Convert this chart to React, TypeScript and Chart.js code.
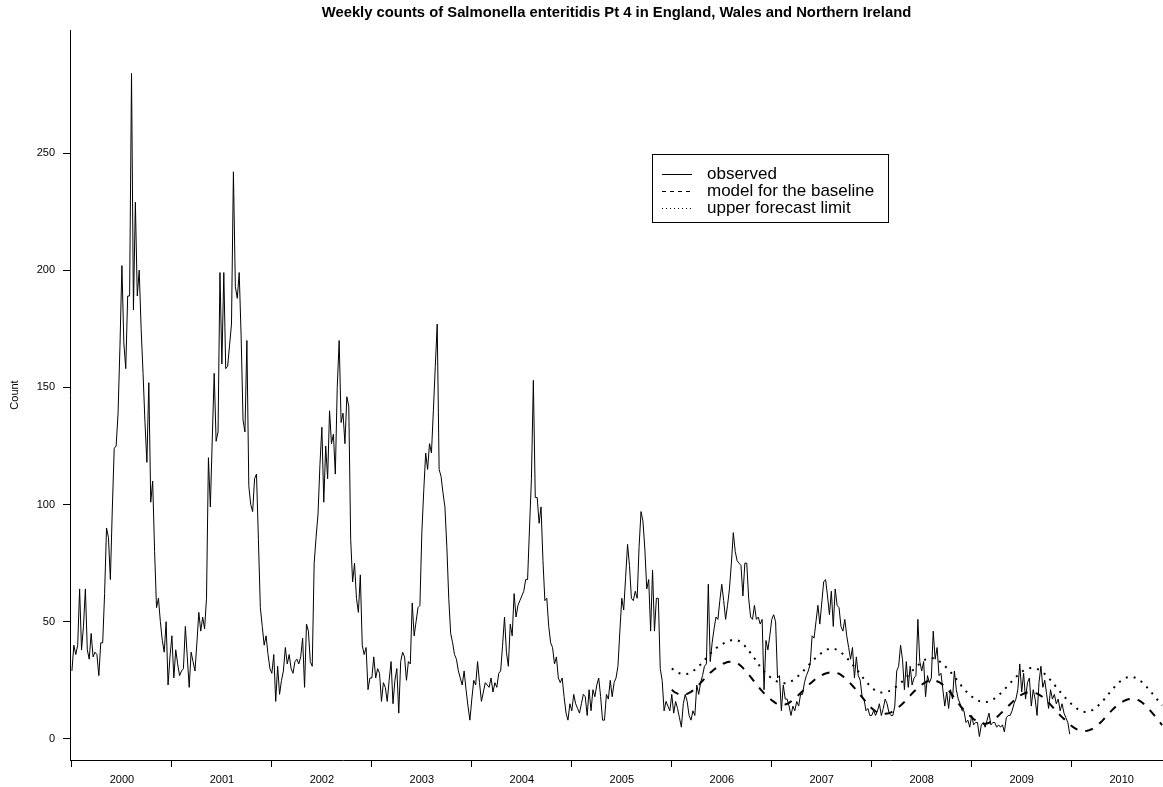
import React, { useEffect, useRef } from "react";
import { Chart, registerables } from "chart.js";

Chart.register(...registerables);

// ---------- data ----------
const years = ["2000", "2001", "2002", "2003", "2004", "2005", "2006", "2007", "2008", "2009", "2010"];
const weeksPerYear = 52;
const yTicks = [0, 50, 100, 150, 200, 250];

const obs2000 = [29, 40, 36, 40, 64, 38, 48, 64, 38, 34, 45, 35, 37, 36, 27, 41, 41, 62, 90, 86, 68, 98, 124, 125, 139, 168, 202, 169, 158, 189, 189, 284, 183, 229, 189, 200, 175, 156, 135, 118, 152, 101, 110, 80, 56, 60, 50, 42, 37, 50, 23, 35];
const obs2001 = [44, 26, 38, 32, 27, 29, 30, 48, 35, 22, 37, 33, 29, 41, 54, 46, 52, 47, 60, 120, 99, 128, 156, 127, 131, 199, 160, 199, 158, 159, 168, 177, 242, 193, 188, 199, 172, 136, 131, 170, 108, 100, 97, 111, 113, 85, 56, 48, 40, 44, 36, 30];
const obs2002 = [28, 36, 16, 31, 19, 25, 29, 39, 32, 36, 30, 28, 33, 34, 32, 35, 43, 22, 49, 46, 33, 31, 75, 86, 96, 117, 133, 101, 125, 111, 140, 126, 130, 113, 150, 170, 135, 139, 126, 146, 142, 85, 67, 75, 60, 54, 70, 40, 36, 39, 21, 26];
const obs2003 = [26, 35, 26, 30, 28, 16, 24, 22, 16, 25, 33, 15, 25, 30, 11, 33, 37, 35, 25, 33, 32, 58, 44, 50, 56, 57, 88, 106, 122, 115, 126, 122, 140, 159, 177, 115, 112, 105, 99, 82, 60, 45, 41, 36, 34, 29, 26, 23, 29, 21, 14, 8];
const obs2004 = [17, 25, 23, 33, 24, 16, 20, 24, 23, 22, 26, 20, 24, 22, 28, 29, 40, 52, 37, 31, 49, 44, 62, 52, 57, 59, 61, 63, 68, 68, 90, 111, 153, 103, 103, 92, 99, 76, 59, 60, 48, 41, 39, 32, 35, 26, 24, 26, 18, 11, 8, 15];
const obs2005 = [12, 19, 15, 13, 11, 15, 19, 18, 10, 21, 12, 21, 18, 23, 26, 18, 8, 8, 19, 17, 25, 18, 24, 26, 31, 46, 60, 55, 69, 83, 74, 60, 59, 63, 60, 82, 97, 93, 81, 64, 68, 46, 72, 46, 60, 60, 30, 25, 12, 16, 14, 12];
const obs2006 = [19, 11, 16, 13, 9, 5, 15, 19, 16, 10, 8, 12, 10, 23, 19, 24, 27, 31, 32, 66, 33, 41, 47, 52, 51, 59, 66, 59, 51, 57, 64, 75, 88, 80, 76, 75, 74, 61, 75, 75, 60, 52, 51, 57, 51, 52, 49, 51, 21, 42, 38, 44];
const obs2007 = [51, 53, 50, 26, 27, 12, 23, 17, 17, 14, 10, 14, 12, 16, 14, 19, 19, 24, 27, 29, 32, 44, 43, 50, 57, 49, 58, 67, 68, 61, 53, 63, 48, 64, 57, 56, 48, 46, 51, 44, 39, 34, 39, 26, 35, 27, 25, 18, 17, 12, 13, 10];
const obs2008 = [10, 12, 10, 12, 15, 10, 13, 17, 15, 11, 10, 10, 14, 29, 31, 40, 34, 21, 33, 22, 31, 23, 26, 27, 51, 33, 29, 33, 18, 27, 24, 26, 46, 34, 39, 27, 28, 21, 14, 20, 13, 21, 17, 29, 21, 17, 15, 12, 12, 7, 8, 5];
const obs2009 = [10, 6, 7, 7, 1, 6, 7, 5, 8, 11, 6, 7, 7, 5, 6, 5, 6, 3, 9, 10, 10, 12, 15, 17, 21, 32, 20, 28, 17, 24, 26, 14, 21, 17, 10, 24, 31, 22, 25, 19, 13, 21, 17, 19, 15, 17, 12, 15, 11, 9, 7, 2];

const base2006 = [21, 20.2, 19.7, 19.3, 19, 18.8, 18.8, 18.9, 19.2, 19.6, 20.1, 20.7, 21.4, 22.2, 23, 23.9, 24.8, 25.7, 26.6, 27.4, 28.2, 28.9, 29.6, 30.2, 30.8, 31.3, 31.8, 32.2, 32.5, 32.8, 32.9, 33, 32.9, 32.7, 32.3, 31.8, 31.1, 30.3, 29.4, 28.5, 27.5, 26.5, 25.4, 24.3, 23.3, 22.3, 21.3, 20.4, 19.5, 18.7, 18, 17.2];
const base2007 = [16.5, 15.9, 15.3, 14.9, 14.6, 14.5, 14.5, 14.7, 15, 15.4, 16, 16.6, 17.3, 18, 18.8, 19.6, 20.4, 21.2, 22, 22.8, 23.6, 24.3, 25, 25.7, 26.3, 26.8, 27.2, 27.6, 27.9, 28.1, 28.3, 28.4, 28.4, 28.3, 28.1, 27.8, 27.3, 26.7, 26, 25.3, 24.5, 23.6, 22.7, 21.8, 20.8, 19.8, 18.8, 17.8, 16.8, 15.8, 14.8, 13.9];
const base2008 = [13.1, 12.4, 11.8, 11.3, 11, 10.8, 10.7, 10.7, 10.8, 11, 11.3, 11.7, 12.2, 12.8, 13.5, 14.2, 15, 15.8, 16.7, 17.6, 18.5, 19.4, 20.2, 21, 21.8, 22.5, 23.1, 23.7, 24.2, 24.6, 24.9, 25, 25, 24.9, 24.6, 24.2, 23.7, 23.1, 22.4, 21.6, 20.7, 19.7, 18.6, 17.5, 16.4, 15.3, 14.2, 13.2, 12.3, 11.4, 10.6, 9.9];
const base2009 = [9.2, 8.5, 7.9, 7.4, 7, 6.7, 6.5, 6.5, 6.6, 6.9, 7.3, 7.8, 8.5, 9.2, 10, 10.8, 11.6, 12.4, 13.2, 14, 14.8, 15.6, 16.4, 17.1, 17.8, 18.4, 18.9, 19.3, 19.6, 19.8, 19.9, 19.9, 19.8, 19.6, 19.3, 18.9, 18.4, 17.8, 17.1, 16.3, 15.5, 14.6, 13.7, 12.8, 11.9, 11, 10.1, 9.3, 8.5, 7.7, 6.9, 6.2];
const base2010 = [5.5, 4.9, 4.4, 4, 3.7, 3.5, 3.4, 3.4, 3.5, 3.7, 4, 4.4, 4.9, 5.5, 6.2, 7, 7.8, 8.7, 9.6, 10.5, 11.4, 12.3, 13.1, 13.9, 14.6, 15.2, 15.7, 16.1, 16.5, 16.8, 17, 17.1, 17.1, 17, 16.8, 16.4, 15.9, 15.3, 14.6, 13.8, 12.9, 12, 11, 10, 9, 8, 7, 5.9];

const up2006 = [30, 29.5, 29, 28.5, 28, 27.8, 27.6, 27.6, 27.7, 28, 28.4, 29, 29.5, 30.2, 31, 31.8, 32.7, 33.6, 34.6, 35.5, 36.4, 37.2, 38, 38.7, 39.3, 39.8, 40.3, 40.8, 41.2, 41.6, 41.9, 42.1, 42.2, 42.2, 42.1, 41.8, 41.3, 40.6, 39.7, 38.7, 37.7, 36.6, 35.5, 34.4, 33.2, 32, 30.8, 29.7, 28.8, 28, 27.2, 26.5];
const up2007 = [25.9, 25.3, 24.8, 24.4, 24.1, 23.9, 23.8, 23.8, 23.9, 24.1, 24.5, 25, 25.6, 26.3, 27, 27.8, 28.6, 29.5, 30.4, 31.3, 32.2, 33.1, 33.9, 34.7, 35.4, 36.1, 36.7, 37.3, 37.8, 38.2, 38.4, 38.5, 38.5, 38.3, 38, 37.5, 36.9, 36.2, 35.4, 34.6, 33.7, 32.8, 31.8, 30.8, 29.8, 28.8, 27.7, 26.6, 25.5, 24.5, 23.6, 22.7];
const up2008 = [21.9, 21.2, 20.6, 20.2, 19.9, 19.8, 19.8, 19.9, 20.1, 20.4, 20.8, 21.3, 21.8, 22.4, 23.1, 23.8, 24.6, 25.4, 26.3, 27.2, 28.1, 29, 29.8, 30.6, 31.4, 32.1, 32.8, 33.4, 33.9, 34.3, 34.5, 34.5, 34.4, 34.1, 33.7, 33.2, 32.6, 31.9, 31.2, 30.3, 29.4, 28.5, 27.5, 26.5, 25.5, 24.4, 23.3, 22.3, 21.3, 20.4, 19.6, 18.8];
const up2009 = [18.1, 17.5, 17, 16.5, 16.1, 15.9, 15.7, 15.7, 15.8, 16, 16.3, 16.8, 17.3, 17.9, 18.6, 19.4, 20.2, 21.1, 22, 22.9, 23.8, 24.7, 25.6, 26.4, 27.2, 27.9, 28.6, 29.2, 29.7, 30, 30.2, 30.3, 30.3, 30.2, 29.9, 29.5, 29, 28.4, 27.7, 26.9, 26, 25.1, 24.1, 23.1, 22.1, 21.1, 20.1, 19.1, 18.2, 17.3, 16.4, 15.6];
const up2010 = [14.8, 14.1, 13.4, 12.8, 12.3, 11.9, 11.6, 11.5, 11.5, 11.7, 12, 12.4, 13, 13.6, 14.4, 15.2, 16.1, 17, 18, 19, 20, 21, 21.9, 22.8, 23.6, 24.4, 25, 25.6, 26, 26.3, 26.5, 26.5, 26.4, 26.1, 25.7, 25.2, 24.6, 23.9, 23.1, 22.2, 21.3, 20.3, 19.3, 18.3, 17.3, 16.3, 15.3, 14.3];

const observedStartWeek = 1;
const forecastStartWeek = 313;
const lastWeek = 568.5;

const observed = [...obs2000, ...obs2001, ...obs2002, ...obs2003, ...obs2004, ...obs2005, ...obs2006, ...obs2007, ...obs2008, ...obs2009];
const baseline = [...base2006, ...base2007, ...base2008, ...base2009, ...base2010];
const upperLimit = [...up2006, ...up2007, ...up2008, ...up2009, ...up2010];

const yearStarts = years.map((_, i) => 1 + i * weeksPerYear);
const yearMids = years.map((_, i) => 27 + i * weeksPerYear);

const FONT = '"Liberation Sans", Arial, Helvetica, sans-serif';

function toPoints(values: number[], start: number) {
  return values.map((v, i) => ({ x: start + i, y: v }));
}

const legendStyles = [
  { dash: [] as number[], width: 1 },
  { dash: [4, 4], width: 1 },
  { dash: [1, 3], width: 1 },
];

const boxLegend = {
  id: "boxLegend",
  afterDraw(chart: any) {
    const { ctx, chartArea } = chart;
    const x0 = chartArea.left + 582;
    const y0 = chartArea.top + 124;
    const w = 236;
    const rowGap = 17;
    const h = rowGap * 4;
    ctx.save();
    ctx.strokeStyle = "#000";
    ctx.lineWidth = 1;
    ctx.setLineDash([]);
    ctx.strokeRect(Math.round(x0) + 0.5, Math.round(y0) + 0.5, w, h);
    chart.data.datasets.forEach((ds: any, i: number) => {
      const cy = Math.round(y0 + rowGap * (i + 1) + 3) + 0.5;
      const st = legendStyles[i];
      ctx.beginPath();
      ctx.setLineDash(st.dash);
      ctx.lineWidth = st.width;
      ctx.moveTo(x0 + 10, cy);
      ctx.lineTo(x0 + 40, cy);
      ctx.stroke();
      ctx.setLineDash([]);
      ctx.fillStyle = "#000";
      ctx.font = `17px ${FONT}`;
      ctx.textBaseline = "middle";
      ctx.textAlign = "left";
      ctx.fillText(ds.label, x0 + 55, cy);
    });
    ctx.restore();
  },
};

export default function App() {
  const ref = useRef<HTMLCanvasElement | null>(null);

  useEffect(() => {
    if (!ref.current) return;
    const chart = new Chart(ref.current, {
      type: "line",
      data: {
        datasets: [
          {
            label: "observed",
            data: toPoints(observed, observedStartWeek),
            borderColor: "#000",
            borderWidth: 1,
            pointRadius: 0,
            tension: 0,
            fill: false,
          },
          {
            label: "model for the baseline",
            data: toPoints(baseline, forecastStartWeek),
            borderColor: "#000",
            borderWidth: 2,
            borderDash: [8, 8],
            pointRadius: 0,
            tension: 0,
            fill: false,
          },
          {
            label: "upper forecast limit",
            data: toPoints(upperLimit, forecastStartWeek),
            borderColor: "#000",
            borderWidth: 2,
            borderDash: [2, 6],
            pointRadius: 0,
            tension: 0,
            fill: false,
          },
        ],
      },
      options: {
        animation: false,
        responsive: false,
        devicePixelRatio: 1,
        layout: { padding: { left: 0, right: 0, top: 0, bottom: 0 } },
        plugins: {
          legend: { display: false },
          tooltip: { enabled: false },
          title: {
            display: true,
            fullSize: false,
            text: "Weekly counts of Salmonella enteritidis Pt 4 in England, Wales and Northern Ireland",
            color: "#000",
            font: { family: FONT, size: 14.8, weight: "bold" },
            padding: { top: 4, bottom: 8.24 },
          },
        },
        scales: {
          x: {
            type: "linear",
            min: 0,
            max: lastWeek,
            afterBuildTicks: (scale: any) => {
              const vals = [...yearStarts, ...yearMids, lastWeek].sort((a, b) => a - b);
              scale.ticks = vals.map((v) => ({ value: v }));
            },
            afterFit: (scale: any) => {
              scale.height = 27;
              scale.paddingLeft = 0;
              scale.paddingRight = 0;
            },
            ticks: {
              autoSkip: false,
              maxRotation: 0,
              minRotation: 0,
              padding: 6,
              color: "#000",
              font: { family: FONT, size: 11 },
              callback: (value: any) => {
                const idx = yearMids.indexOf(Number(value));
                return idx >= 0 ? years[idx] : "";
              },
            },
            grid: {
              display: true,
              drawOnChartArea: false,
              drawTicks: true,
              tickLength: 7,
              tickWidth: 1,
              tickColor: (ctx: any) =>
                ctx.tick && yearStarts.includes(ctx.tick.value) ? "#000" : "rgba(0,0,0,0)",
            },
            border: { display: true, color: "#000", width: 1 },
          },
          y: {
            type: "linear",
            min: -9,
            max: 302.5,
            afterBuildTicks: (scale: any) => {
              scale.ticks = yTicks.map((v) => ({ value: v }));
            },
            afterFit: (scale: any) => {
              scale.width = 70;
            },
            ticks: {
              padding: 8,
              color: "#000",
              font: { family: FONT, size: 11 },
              callback: (value: any) => String(value),
            },
            grid: {
              display: true,
              drawOnChartArea: false,
              drawTicks: true,
              tickLength: 7,
              tickColor: "#000",
            },
            border: { display: true, color: "#000", width: 1 },
            title: {
              display: true,
              text: "Count",
              color: "#000",
              font: { family: FONT, size: 11 },
              padding: { top: 8, bottom: 0 },
            },
          },
        },
      },
      plugins: [boxLegend],
    });
    return () => chart.destroy();
  }, []);

  return (
    <div style={{ position: "absolute", left: 0, top: 0, width: 1163, height: 787, background: "#fff" }}>
      <canvas ref={ref} width={1163} height={787} style={{ width: 1163, height: 787, display: "block" }} />
    </div>
  );
}
